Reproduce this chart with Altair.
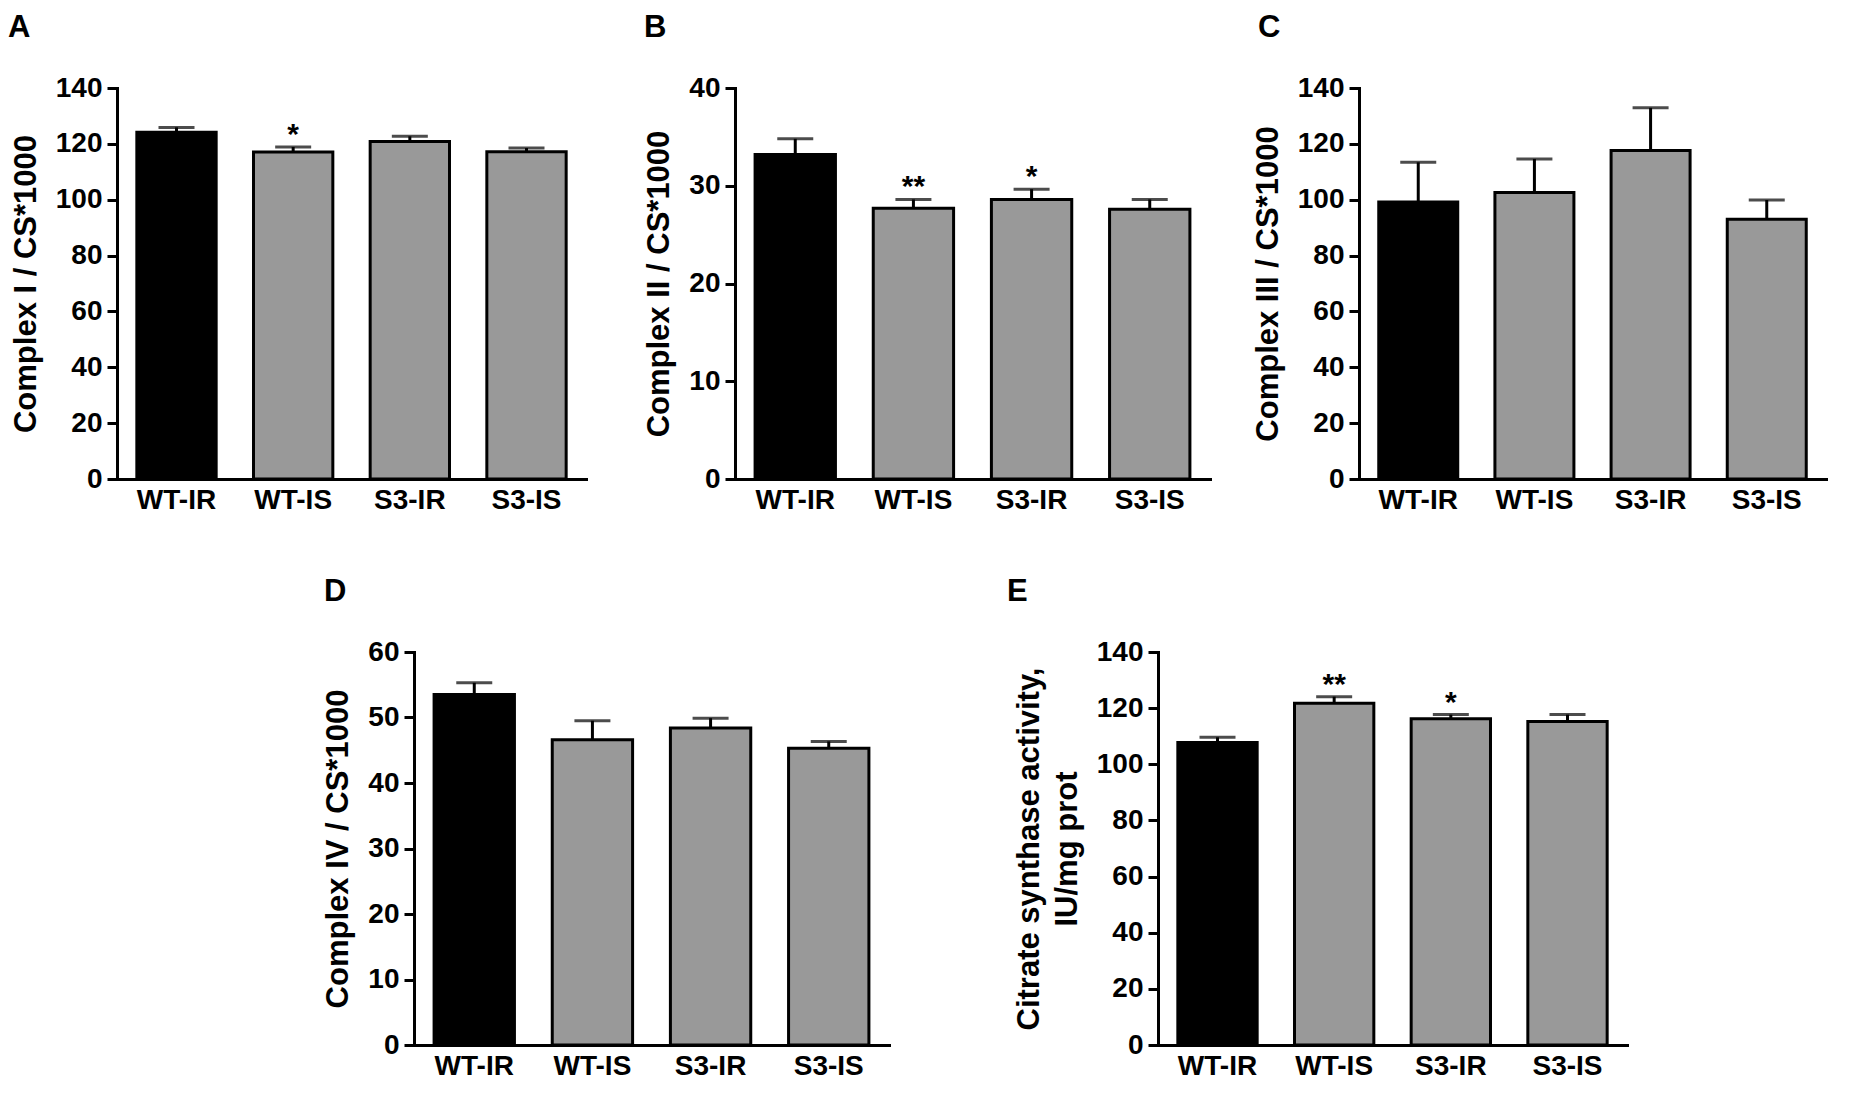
import altair as alt
import pandas as pd

FONT = "Liberation Sans"

groups = ["WT-IR", "WT-IS", "S3-IR", "S3-IS"]
bar_colors = ["#000000", "#999999", "#999999", "#999999"]

# Panel A: Complex I / CS*1000
c1_mean = [124.2, 117.1, 120.8, 117.2]
c1_err = [1.7, 1.8, 1.9, 1.3]
c1_star = ["", "*", "", ""]

# Panel B: Complex II / CS*1000
c2_mean = [33.2, 27.7, 28.6, 27.6]
c2_err = [1.6, 0.9, 1.05, 1.0]
c2_star = ["", "**", "*", ""]

# Panel C: Complex III / CS*1000
c3_mean = [99.2, 102.6, 117.6, 93.0]
c3_err = [14.2, 12.0, 15.3, 6.9]
c3_star = ["", "", "", ""]

# Panel D: Complex IV / CS*1000
c4_mean = [53.5, 46.6, 48.4, 45.3]
c4_err = [1.8, 2.9, 1.5, 1.05]
c4_star = ["", "", "", ""]

# Panel E: Citrate synthase activity
cs_mean = [107.8, 121.7, 116.2, 115.2]
cs_err = [1.8, 2.4, 1.5, 2.5]
cs_star = ["", "**", "*", ""]


def panel(mean, err, star, ymax, ystep, ytitle, letter, letter_dx, width, height):
    df = pd.DataFrame({
        "group": groups,
        "mean": mean,
        "upper": [m + e for m, e in zip(mean, err)],
        "star": star,
    })
    yscale = alt.Scale(domain=[0, ymax], nice=False, zero=True)
    yaxis = alt.Axis(
        title=ytitle,
        values=list(range(0, ymax + 1, ystep)),
        tickSize=10,
        labelPadding=5,
        titlePadding=13,
        grid=False,
    )
    xenc = alt.X(
        "group:N",
        sort=groups,
        scale=alt.Scale(paddingInner=0.32, paddingOuter=0.17),
        axis=alt.Axis(title=None, labelAngle=0, ticks=False, labelPadding=7),
    )
    base = alt.Chart(df).encode(x=xenc)
    bars = base.mark_bar(stroke="black", strokeWidth=3).encode(
        y=alt.Y("mean:Q", scale=yscale, axis=yaxis),
        color=alt.Color("group:N", scale=alt.Scale(domain=groups, range=bar_colors), legend=None),
    )
    rule = base.mark_rule(strokeWidth=3, color="black").encode(
        y=alt.Y("mean:Q", scale=yscale, axis=yaxis), y2="upper:Q"
    )
    cap = base.mark_tick(thickness=3, size=36, color="black").encode(
        y=alt.Y("upper:Q", scale=yscale, axis=yaxis)
    )
    stars = base.mark_text(
        baseline="alphabetic", dy=-3, fontSize=30, font=FONT, fontWeight="bold", color="black"
    ).encode(y=alt.Y("upper:Q", scale=yscale, axis=yaxis), text="star:N")
    return alt.layer(rule, bars, cap, stars).properties(
        width=width,
        height=height,
        title=alt.TitleParams(
            letter, anchor="start", frame="group", dx=letter_dx, offset=30,
            fontSize=31, font=FONT, fontWeight="bold", color="black",
        ),
    )


pA = panel(c1_mean, c1_err, c1_star, 140, 20, "Complex I / CS*1000", "A", -109, 469, 391)
pB = panel(c2_mean, c2_err, c2_star, 40, 10, "Complex II / CS*1000", "B", -91, 475, 391)
pC = panel(c3_mean, c3_err, c3_star, 140, 20, "Complex III / CS*1000", "C", -101, 467, 391)
pD = panel(c4_mean, c4_err, c4_star, 60, 10, "Complex IV / CS*1000", "D", -90, 475, 393)
pE = panel(cs_mean, cs_err, cs_star, 140, 20, ["Citrate synthase activity,", "IU/mg prot"], "E", -151, 469, 393)

spacer = alt.Chart(pd.DataFrame({"v": [0]})).mark_point(opacity=0).encode(
    x=alt.X("v:Q", axis=None), y=alt.Y("v:Q", axis=None)
).properties(width=28, height=393)

top = alt.hconcat(pA, pB, pC, spacing=149, bounds="flush")
bottom = alt.hconcat(spacer, pD, pE, spacing=269, bounds="flush")

chart = alt.vconcat(top, bottom, spacing=62).properties(
    padding={"left": 0, "top": 4, "right": 5, "bottom": 5}
).configure_view(stroke=None).configure_axis(
    domainColor="black",
    domainWidth=3,
    domainCap="square",
    tickColor="black",
    tickWidth=3,
    labelColor="black",
    titleColor="black",
    labelFont=FONT,
    labelFontWeight="bold",
    labelFontSize=28,
    titleFont=FONT,
    titleFontWeight="bold",
    titleFontSize=31,
    titleLineHeight=38,
)

chart.save("out.html", embed_options={"renderer": "svg", "actions": False})
